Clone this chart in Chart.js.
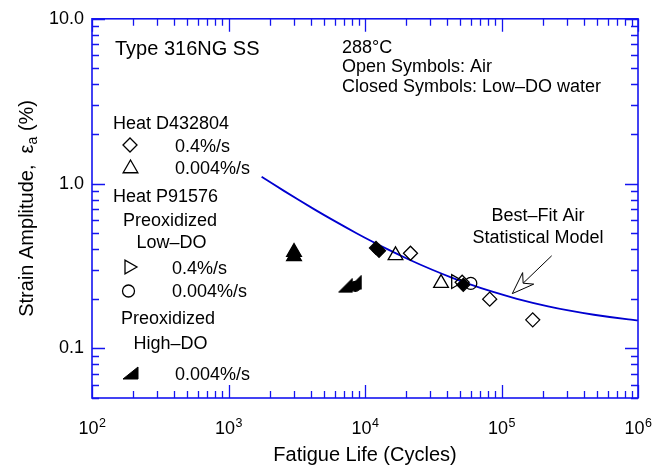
<!DOCTYPE html>
<html><head><meta charset="utf-8">
<script src="https://cdn.jsdelivr.net/npm/chart.js@4/dist/chart.umd.min.js"></script>
<style>html,body{margin:0;padding:0;background:#fff}#wrap{width:656px;height:465px;position:relative}</style>
</head><body><div id="wrap"><canvas id="c" width="656" height="465"></canvas></div>
<script>
const FONT = '"Liberation Sans", Arial, Helvetica, sans-serif';

// Best-fit air statistical model
const curveLife   = [1748, 2094, 2566, 3233, 4228, 5831, 8665, 11010, 14570, 20400, 31090, 42650, 54760, 86960, 129700, 219500, 309000, 475300, 850600, 1000000];
const curveStrain = [1.10, 1.00, 0.90, 0.80, 0.70, 0.60, 0.50, 0.45, 0.40, 0.35, 0.30, 0.27, 0.25, 0.22, 0.20, 0.18, 0.17, 0.16, 0.15, 0.148];

// Heat D432804, 0.4%/s — open (air) and closed (low-DO water) diamonds
const dAirLife = [21540, 51500, 81950, 169300];
const dAirStrain = [0.378, 0.252, 0.199, 0.149];
const dWatLife = [12040, 12670, 52480];
const dWatStrain = [0.407, 0.391, 0.243];
// Heat D432804, 0.004%/s — triangles
const tAirLife = [16730, 36060];
const tAirStrain = [0.367, 0.249];
const tWatLife = [3020, 3020];
const tWatStrain = [0.384, 0.362];
// Heat P91576 preoxidized low-DO, 0.4%/s — right-pointing triangles
const rAirLife = [46180];
const rAirStrain = [0.2545];
// Heat P91576 preoxidized low-DO, 0.004%/s — circles
const cAirLife = [59570];
const cAirStrain = [0.248];
const cWatLife = [8500];
const cWatStrain = [0.238];
// Heat P91576 preoxidized high-DO, 0.004%/s
const hWatLife = [7190, 8370];
const hWatStrain = [0.2415, 0.252];

// axis ticks
const xTickExponents = [2, 3, 4, 5, 6];
const yTickLabels = {'-1': '0.1', '0': '1.0', '1': '10.0'};

const pts = (xs, ys) => xs.map((x, i) => ({x: x, y: ys[i]}));

// custom marker: filled right triangle (◢)
function makeWedge(w, h) {
  const c = document.createElement('canvas');
  c.width = w + 2; c.height = h + 2;
  const g = c.getContext('2d');
  g.fillStyle = '#000'; g.strokeStyle = '#000'; g.lineWidth = 1;
  g.beginPath(); g.moveTo(1, h + 1); g.lineTo(w + 1, h + 1); g.lineTo(w + 1, 1); g.closePath();
  g.fill(); g.stroke();
  return c;
}
const wedgeLegend = makeWedge(15, 12);
const wedgeData = makeWedge(14, 14);

const BLACK = '#000';
const OPEN = 'rgba(0,0,0,0)';
function ds(data, style, radius, filled, rot) {
  return {
    data: data, showLine: false, pointStyle: style, pointRadius: radius, pointHoverRadius: radius,
    pointRotation: rot || 0, pointBorderColor: BLACK, pointBackgroundColor: filled ? BLACK : OPEN,
    pointBorderWidth: 1.3, order: 0
  };
}

function drawMarker(ctx, style, x, y, r, rot, filled) {
  ctx.save();
  ctx.strokeStyle = BLACK; ctx.fillStyle = filled ? BLACK : 'rgba(0,0,0,0)'; ctx.lineWidth = 1.3;
  if (style === 'wedge') { ctx.drawImage(wedgeLegend, x - wedgeLegend.width/2, y - wedgeLegend.height/2); ctx.restore(); return; }
  ctx.translate(x, y); ctx.rotate((rot || 0) * Math.PI / 180);
  ctx.beginPath();
  if (style === 'circle') ctx.arc(0, 0, r, 0, Math.PI * 2);
  else if (style === 'rectRot') { ctx.moveTo(-r, 0); ctx.lineTo(0, -r); ctx.lineTo(r, 0); ctx.lineTo(0, r); ctx.closePath(); }
  else if (style === 'triangle') {
    for (let k = 0; k < 3; k++) { const a = k * 2 * Math.PI / 3; const px = Math.sin(a) * r, py = -Math.cos(a) * r; if (k) ctx.lineTo(px, py); else ctx.moveTo(px, py); }
    ctx.closePath();
  }
  if (filled) ctx.fill();
  ctx.stroke();
  ctx.restore();
}

const AXIS = '#1414f0';

const decor = {
  id: 'decor',
  afterDraw(chart) {
    const ctx = chart.ctx, a = chart.chartArea, xs = chart.scales.x, ys = chart.scales.y;
    ctx.save();
    // frame
    ctx.strokeStyle = AXIS; ctx.lineWidth = 1.6;
    ctx.strokeRect(a.left, a.top, a.right - a.left, a.bottom - a.top);
    // ticks on all four sides, pointing inward
    ctx.lineWidth = 1.3;
    ctx.beginPath();
    for (let e = 2; e <= 6; e++) {
      for (let m = 1; m <= 9; m++) {
        const v = m * Math.pow(10, e);
        if (v > 1e6 * 1.0001) break;
        const px = Math.round(xs.getPixelForValue(v)) + 0.5;
        const L = m === 1 ? 13 : 7;
        ctx.moveTo(px, a.bottom); ctx.lineTo(px, a.bottom - L);
        ctx.moveTo(px, a.top); ctx.lineTo(px, a.top + L);
      }
    }
    for (let e = -2; e <= 1; e++) {
      for (let m = 1; m <= 9; m++) {
        const v = m * Math.pow(10, e);
        if (v < 0.05 - 1e-9 || v > 10.0001) continue;
        const py = Math.round(ys.getPixelForValue(v)) + 0.5;
        const L = m === 1 ? 13 : 7;
        ctx.moveTo(a.left, py); ctx.lineTo(a.left + L, py);
        ctx.moveTo(a.right, py); ctx.lineTo(a.right - L, py);
      }
    }
    ctx.stroke();

    // x tick labels with superscripts
    ctx.fillStyle = '#000';
    ctx.textBaseline = 'alphabetic';
    xTickExponents.forEach(e => {
      const px = xs.getPixelForValue(Math.pow(10, e));
      ctx.font = '18px ' + FONT; const w1 = ctx.measureText('10').width;
      ctx.font = '12.5px ' + FONT; const w2 = ctx.measureText(String(e)).width;
      const x0 = px - (w1 + w2) / 2;
      ctx.font = '18px ' + FONT; ctx.textAlign = 'left'; ctx.fillText('10', x0, 434);
      ctx.font = '12.5px ' + FONT; ctx.fillText(String(e), x0 + w1 + 0.5, 427);
    });

    // x title
    ctx.font = '20px ' + FONT; ctx.textAlign = 'center';
    ctx.fillText('Fatigue Life (Cycles)', (a.left + a.right) / 2, 461);

    // y title (rotated, with subscript)
    ctx.save();
    ctx.translate(26, (a.top + a.bottom) / 2);
    ctx.rotate(-Math.PI / 2);
    const p1 = 'Strain Amplitude,  \u03b5', p2 = 'a', p3 = ' (%)';
    ctx.font = '20px ' + FONT; const w1 = ctx.measureText(p1).width, w3 = ctx.measureText(p3).width;
    ctx.font = '14px ' + FONT; const w2 = ctx.measureText(p2).width;
    let sx = -(w1 + w2 + w3) / 2;
    ctx.textAlign = 'left';
    ctx.font = '20px ' + FONT; ctx.fillText(p1, sx, 7); sx += w1;
    ctx.font = '14px ' + FONT; ctx.fillText(p2, sx, 11); sx += w2;
    ctx.font = '20px ' + FONT; ctx.fillText(p3, sx, 7);
    ctx.restore();

    // annotations
    ctx.textAlign = 'left';
    ctx.font = '20px ' + FONT; ctx.fillText('Type 316NG SS', 115, 55);
    ctx.font = '18px ' + FONT;
    ctx.fillText('288\u00b0C', 342, 53);
    ctx.fillText('Open Symbols: Air', 342, 72);
    ctx.fillText('Closed Symbols: Low\u2013DO water', 342, 92);

    // legend block
    ctx.fillText('Heat D432804', 113, 129);
    ctx.fillText('0.4%/s', 175, 151.5);
    ctx.fillText('0.004%/s', 175, 173.5);
    ctx.fillText('Heat P91576', 113, 201.5);
    ctx.textAlign = 'center';
    ctx.fillText('Preoxidized', 170, 225.5);
    ctx.fillText('Low\u2013DO', 171.5, 247.5);
    ctx.textAlign = 'left';
    ctx.fillText('0.4%/s', 172, 273.5);
    ctx.fillText('0.004%/s', 172, 296.5);
    ctx.textAlign = 'center';
    ctx.fillText('Preoxidized', 168, 323.5);
    ctx.fillText('High\u2013DO', 170.5, 348.5);
    ctx.textAlign = 'left';
    ctx.fillText('0.004%/s', 175, 379.5);

    drawMarker(ctx, 'rectRot', 130, 145, 7, 0, false);
    drawMarker(ctx, 'triangle', 130.5, 168.5, 8.5, 0, false);
    drawMarker(ctx, 'triangle', 129, 267, 8, 90, false);
    drawMarker(ctx, 'circle', 128.5, 291, 6, 0, false);
    drawMarker(ctx, 'wedge', 130.5, 373, 0, 0, true);

    // best-fit label and arrow
    ctx.textAlign = 'center';
    ctx.fillText('Best\u2013Fit Air', 538, 220.5);
    ctx.fillText('Statistical Model', 538, 243);
    const tx = xs.getPixelForValue(120000), ty = ys.getPixelForValue(0.215);
    const bx = xs.getPixelForValue(233200), by = ys.getPixelForValue(0.3648);
    const dx = bx - tx, dy = by - ty, len = Math.hypot(dx, dy), ux = dx / len, uy = dy / len;
    const nx = -uy, ny = ux;
    const H = 22, W = 8, N = 15;
    ctx.strokeStyle = '#000'; ctx.lineWidth = 1;
    ctx.beginPath(); ctx.moveTo(bx, by); ctx.lineTo(tx + ux * N, ty + uy * N); ctx.stroke();
    ctx.beginPath();
    ctx.moveTo(tx, ty);
    ctx.lineTo(tx + ux * H + nx * W, ty + uy * H + ny * W);
    ctx.lineTo(tx + ux * N, ty + uy * N);
    ctx.lineTo(tx + ux * H - nx * W, ty + uy * H - ny * W);
    ctx.closePath();
    ctx.fillStyle = '#fff'; ctx.fill(); ctx.stroke();
    ctx.restore();
  }
};

new Chart(document.getElementById('c'), {
  type: 'scatter',
  data: {
    datasets: [
      { type: 'line', data: pts(curveLife, curveStrain), borderColor: '#0000d0', borderWidth: 1.8,
        pointRadius: 0, fill: false, tension: 0.3, cubicInterpolationMode: 'monotone', order: 10 },
      ds(pts(dAirLife, dAirStrain), 'rectRot', 7, false),
      ds(pts(dWatLife, dWatStrain), 'rectRot', 6.5, true),
      ds(pts(tAirLife, tAirStrain), 'triangle', 8.5, false),
      ds(pts(tWatLife, tWatStrain), 'triangle', 8.5, true),
      ds(pts(rAirLife, rAirStrain), 'triangle', 8, false, 90),
      ds(pts(cAirLife, cAirStrain), 'circle', 6, false),
      ds(pts(cWatLife, cWatStrain), 'circle', 5, true),
      ds(pts(hWatLife, hWatStrain), wedgeData, 7, true)
    ]
  },
  options: {
    responsive: false, animation: false, devicePixelRatio: 1,
    layout: { padding: { left: 0, top: 14, right: 18, bottom: 0 } },
    plugins: { legend: { display: false }, tooltip: { enabled: false } },
    scales: {
      x: {
        type: 'logarithmic', min: 100, max: 1000000,
        grid: { display: false, drawTicks: false }, border: { display: false },
        ticks: { display: false },
        afterFit: s => { s.height = 67; }
      },
      y: {
        type: 'logarithmic', min: 0.05, max: 10,
        grid: { display: false, drawTicks: false }, border: { display: false },
        ticks: {
          autoSkip: false, padding: 8, color: '#000', font: { family: FONT, size: 18 },
          callback: v => {
            const l = Math.log10(v), r = Math.round(l);
            return Math.abs(l - r) < 1e-6 && yTickLabels[String(r)] ? yTickLabels[String(r)] : '';
          }
        },
        afterFit: s => { s.width = 92; }
      }
    }
  },
  plugins: [decor]
});
</script>
</body></html>
